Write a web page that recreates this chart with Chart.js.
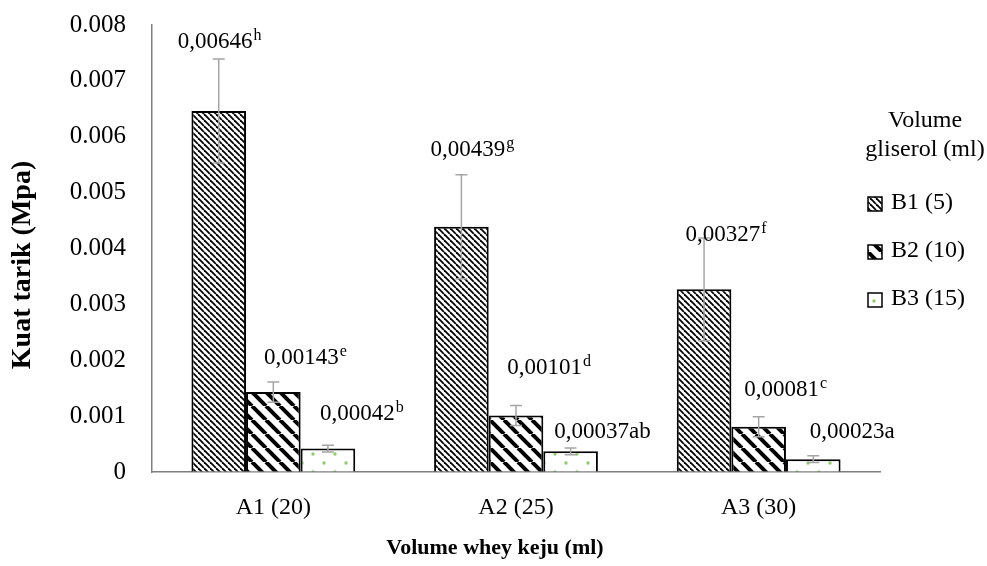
<!DOCTYPE html>
<html>
<head>
<meta charset="utf-8">
<script src="https://cdn.jsdelivr.net/npm/chart.js@4.4.1/dist/chart.umd.min.js"></script>
<style>
  body { margin: 0; background: #fff; }
  #grafica { display: block; }
</style>
</head>
<body>
<canvas id="grafica" width="987" height="566"></canvas>
<script>
// DATA
var categories = ['A1 (20)', 'A2 (25)', 'A3 (30)'];
var seriesNames = ['B1 (5)', 'B2 (10)', 'B3 (15)'];
var b1 = [0.00646, 0.00439, 0.00327];
var b2 = [0.00143, 0.00101, 0.00081];
var b3 = [0.00042, 0.00037, 0.00023];
var b1Err = [0.00093, 0.00093, 0.00092];
var b2Err = [0.00018, 0.00018, 0.00018];
var b3Err = [0.00006, 0.00006, 0.00006];
var b1Text = ['0,00646', '0,00439', '0,00327'];
var b1Sup = ['h', 'g', 'f'];
var b2Text = ['0,00143', '0,00101', '0,00081'];
var b2Sup = ['e', 'd', 'c'];
var b3Text = ['0,00042', '0,00037ab', '0,00023a'];
var b3Sup = ['b', '', ''];
var yTickLabels = ['0', '0.001', '0.002', '0.003', '0.004', '0.005', '0.006', '0.007', '0.008'];
var legendTitle = ['Volume', 'gliserol (ml)'];
var xTitle = 'Volume whey keju (ml)';
var yTitle = 'Kuat tarik (Mpa)';

// label shifts (px) from top-centre of each bar: [dx, dy]
var labelShift = [
  [[1, -71], [11, -78], [22, -56]],
  [[32, -36], [33, -49], [27, -38]],
  [[34, -36], [32, -21], [39, -29]]
];

var serif = '"Liberation Serif", "Times New Roman", serif';

//PATTERNS
function makePattern(kind) {
  var c = document.createElement('canvas');
  var g = c.getContext('2d');
  if (kind == 'thin') {
    c.width = 6; c.height = 6;
    g.fillStyle = '#fff'; g.fillRect(0, 0, 6, 6);
    g.strokeStyle = '#000'; g.lineWidth = 1.8;
    for (var k = -1; k <= 1; k++) {
      g.beginPath(); g.moveTo(k * 6, 0); g.lineTo(k * 6 + 6, 6); g.stroke();
    }
  } else if (kind == 'wide') {
    c.width = 14; c.height = 14;
    g.fillStyle = '#fff'; g.fillRect(0, 0, 14, 14);
    g.strokeStyle = '#000'; g.lineWidth = 4;
    for (var k = -1; k <= 1; k++) {
      g.beginPath(); g.moveTo(k * 14, 0); g.lineTo(k * 14 + 14, 14); g.stroke();
    }
  } else {
    c.width = 22; c.height = 18;
    g.fillStyle = '#fff'; g.fillRect(0, 0, 22, 18);
    g.fillStyle = '#92c86e';
    g.beginPath(); g.arc(5, 4, 1.7, 0, Math.PI * 2); g.fill();
    g.beginPath(); g.arc(16, 13, 1.7, 0, Math.PI * 2); g.fill();
  }
  return document.createElement('canvas').getContext('2d').createPattern(c, 'repeat');
}
var fills = [makePattern('thin'), makePattern('wide'), makePattern('dots')];
var errs = [b1Err, b2Err, b3Err];
var texts = [b1Text, b2Text, b3Text];
var sups = [b1Sup, b2Sup, b3Sup];

var errorBars = {
  id: 'errorBars',
  afterDatasetsDraw: function (chart) {
    var ctx = chart.ctx, y = chart.scales.y;
    ctx.save();
    ctx.strokeStyle = '#a5a5a5';
    ctx.lineWidth = 1.5;
    chart.data.datasets.forEach(function (ds, i) {
      chart.getDatasetMeta(i).data.forEach(function (bar, j) {
        var top = y.getPixelForValue(ds.data[j] + errs[i][j]);
        var bot = y.getPixelForValue(ds.data[j] - errs[i][j]);
        ctx.beginPath();
        ctx.moveTo(bar.x, top); ctx.lineTo(bar.x, bot);
        ctx.moveTo(bar.x - 6, top); ctx.lineTo(bar.x + 6, top);
        ctx.moveTo(bar.x - 6, bot); ctx.lineTo(bar.x + 6, bot);
        ctx.stroke();
      });
    });
    ctx.restore();
  }
};

var valueLabels = {
  id: 'valueLabels',
  afterDatasetsDraw: function (chart) {
    var ctx = chart.ctx;
    ctx.save();
    ctx.fillStyle = '#000';
    ctx.textBaseline = 'alphabetic';
    ctx.textAlign = 'left';
    chart.data.datasets.forEach(function (ds, i) {
      chart.getDatasetMeta(i).data.forEach(function (bar, j) {
        var main = texts[i][j], sup = sups[i][j];
        ctx.font = '23px ' + serif;
        var w1 = ctx.measureText(main).width;
        ctx.font = '16px ' + serif;
        var w2 = sup ? ctx.measureText(sup).width + 1 : 0;
        var cx = bar.x + labelShift[i][j][0];
        var cy = bar.y + labelShift[i][j][1];
        var x0 = cx - (w1 + w2) / 2;
        var base = cy + 7.6;
        ctx.font = '23px ' + serif;
        ctx.fillText(main, x0, base);
        if (sup) {
          ctx.font = '16px ' + serif;
          ctx.fillText(sup, x0 + w1 + 1, base - 8);
        }
      });
    });
    ctx.restore();
  }
};

var titlesAndLegend = {
  id: 'titlesAndLegend',
  afterDraw: function (chart) {
    var ctx = chart.ctx;
    ctx.save();
    ctx.fillStyle = '#000';
    ctx.textAlign = 'center';
    ctx.textBaseline = 'middle';
    ctx.font = 'bold 22px ' + serif;
    ctx.fillText(xTitle, 495, 548);
    ctx.font = 'bold 28px ' + serif;
    ctx.translate(23, 265);
    ctx.rotate(-Math.PI / 2);
    ctx.fillText(yTitle, 0, 0);
    ctx.restore();

    ctx.save();
    ctx.fillStyle = '#000';
    ctx.textAlign = 'center';
    ctx.textBaseline = 'middle';
    ctx.font = '24px ' + serif;
    ctx.fillText(legendTitle[0], 925, 121);
    ctx.fillText(legendTitle[1], 925, 150);
    ctx.textAlign = 'left';
    chart.data.datasets.forEach(function (ds, i) {
      var cy = 204 + i * 48;
      ctx.fillStyle = fills[i];
      ctx.fillRect(868, cy - 7, 14, 14);
      ctx.strokeStyle = '#000';
      ctx.lineWidth = 1.5;
      ctx.strokeRect(868, cy - 7, 14, 14);
      ctx.fillStyle = '#000';
      ctx.fillText(ds.label, 891, cy - 1);
    });
    ctx.restore();
  }
};

var ctx = document.getElementById('grafica').getContext('2d');
var myChart = new Chart(ctx, {
  type: 'bar',
  data: {
    labels: categories,
    datasets: [b1, b2, b3].map(function (vals, i) {
      return {
        label: seriesNames[i],
        data: vals,
        backgroundColor: fills[i],
        borderColor: '#000',
        borderWidth: 2,
        categoryPercentage: 0.675,
        barPercentage: 1
      };
    })
  },
  options: {
    responsive: false,
    animation: false,
    layout: { padding: { left: 0, right: 107, top: 25, bottom: 0 } },
    plugins: {
      legend: { display: false },
      tooltip: { enabled: false }
    },
    scales: {
      x: {
        grid: { drawOnChartArea: false, drawTicks: false },
        border: { color: '#7f7f7f', width: 1.5 },
        ticks: { color: '#000', font: { family: serif, size: 24 }, padding: 21 },
        afterFit: function (s) { s.height = 94; s.paddingLeft = 0; s.paddingRight = 0; }
      },
      y: {
        min: 0,
        max: 0.008,
        grid: { drawOnChartArea: false, drawTicks: false },
        border: { color: '#7f7f7f', width: 1.5 },
        ticks: {
          stepSize: 0.001,
          color: '#000',
          font: { family: serif, size: 25 },
          padding: 26,
          callback: function (v, i) { return yTickLabels[i]; }
        },
        afterFit: function (s) { s.width = 152; s.paddingTop = 0; s.paddingBottom = 0; }
      }
    }
  },
  plugins: [errorBars, valueLabels, titlesAndLegend]
});
</script>
</body>
</html>
